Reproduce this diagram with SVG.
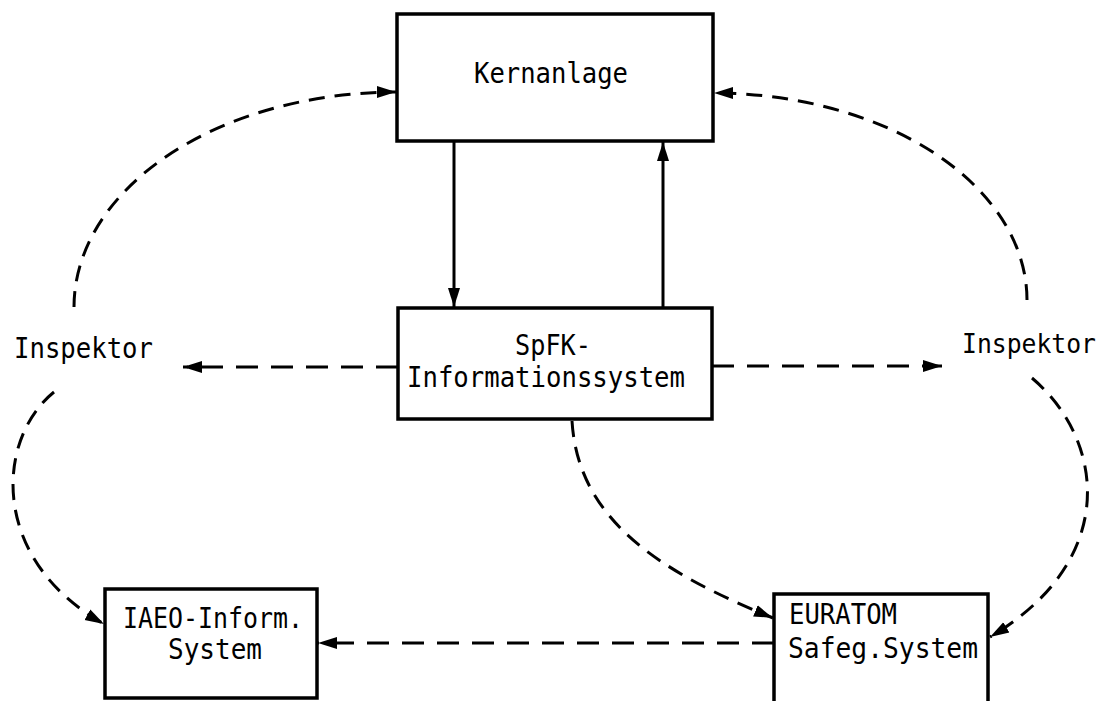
<svg xmlns="http://www.w3.org/2000/svg" width="1112" height="701" viewBox="0 0 1112 701">
<style>
.box{fill:#fff;stroke:#000;stroke-width:3.5}
.t{font-family:"DejaVu Sans Mono","Liberation Mono",monospace;font-size:29px;fill:#000}
.solid{fill:none;stroke:#000;stroke-width:3}
.dc{fill:none;stroke:#000;stroke-width:3;stroke-dasharray:16 10}
.dh{fill:none;stroke:#000;stroke-width:3;stroke-dasharray:22 13}
</style>
<defs>
<marker id="ah" markerUnits="userSpaceOnUse" markerWidth="22" markerHeight="14" refX="19" refY="7" orient="auto">
<path d="M0,1 L19,7 L0,13 z" fill="#000"/>
</marker>
</defs>
<rect width="1112" height="701" fill="#fff"/>
<g id="connectors">
<line class="solid" x1="454" y1="141" x2="454" y2="307" marker-end="url(#ah)"/>
<line class="solid" x1="663" y1="308" x2="663" y2="142" marker-end="url(#ah)"/>
<path class="dc" d="M74,307 A323,215 0 0 1 396,92" marker-end="url(#ah)"/>
<path class="dc" d="M1027,300 A314,207 0 0 0 714,93" marker-end="url(#ah)"/>
<line class="dh" x1="398" y1="367" x2="183" y2="367" marker-end="url(#ah)"/>
<line class="dh" x1="712" y1="366" x2="942" y2="366" marker-end="url(#ah)"/>
<path class="dc" d="M54,392 C-5,440 -10,560 104,624" marker-end="url(#ah)"/>
<path class="dc" d="M1032,378 C1105,440 1120,560 990,637" marker-end="url(#ah)"/>
<path class="dc" d="M572,421 C578,520 660,572 773,618" marker-end="url(#ah)"/>
<line class="dh" x1="774" y1="643" x2="318" y2="643" marker-end="url(#ah)"/>
</g>
<g id="kernanlage">
<rect class="box" x="397" y="14" width="316" height="127"/>
<text class="t" x="551" y="83" text-anchor="middle" textLength="154" lengthAdjust="spacingAndGlyphs">Kernanlage</text>
</g>
<g id="spfk">
<rect class="box" x="398" y="308" width="314" height="111"/>
<text class="t" x="553" y="355" text-anchor="middle" textLength="76" lengthAdjust="spacingAndGlyphs">SpFK-</text>
<text class="t" x="546" y="387" text-anchor="middle" textLength="278" lengthAdjust="spacingAndGlyphs">Informationssystem</text>
</g>
<g id="inspektor-left">
<text class="t" x="14" y="358" textLength="139" lengthAdjust="spacingAndGlyphs">Inspektor</text>
</g>
<g id="inspektor-right">
<text class="t" x="962" y="353" style="font-size:26.5px" textLength="134" lengthAdjust="spacingAndGlyphs">Inspektor</text>
</g>
<g id="iaeo">
<rect class="box" x="105" y="589" width="212" height="109"/>
<text class="t" x="123" y="628" textLength="180" lengthAdjust="spacingAndGlyphs">IAEO-Inform.</text>
<text class="t" x="168" y="659" textLength="94" lengthAdjust="spacingAndGlyphs">System</text>
</g>
<g id="euratom">
<rect class="box" x="774" y="594" width="214" height="120"/>
<text class="t" x="789" y="624" textLength="108" lengthAdjust="spacingAndGlyphs">EURATOM</text>
<text class="t" x="788" y="658" textLength="190" lengthAdjust="spacingAndGlyphs">Safeg.System</text>
</g>
</svg>
